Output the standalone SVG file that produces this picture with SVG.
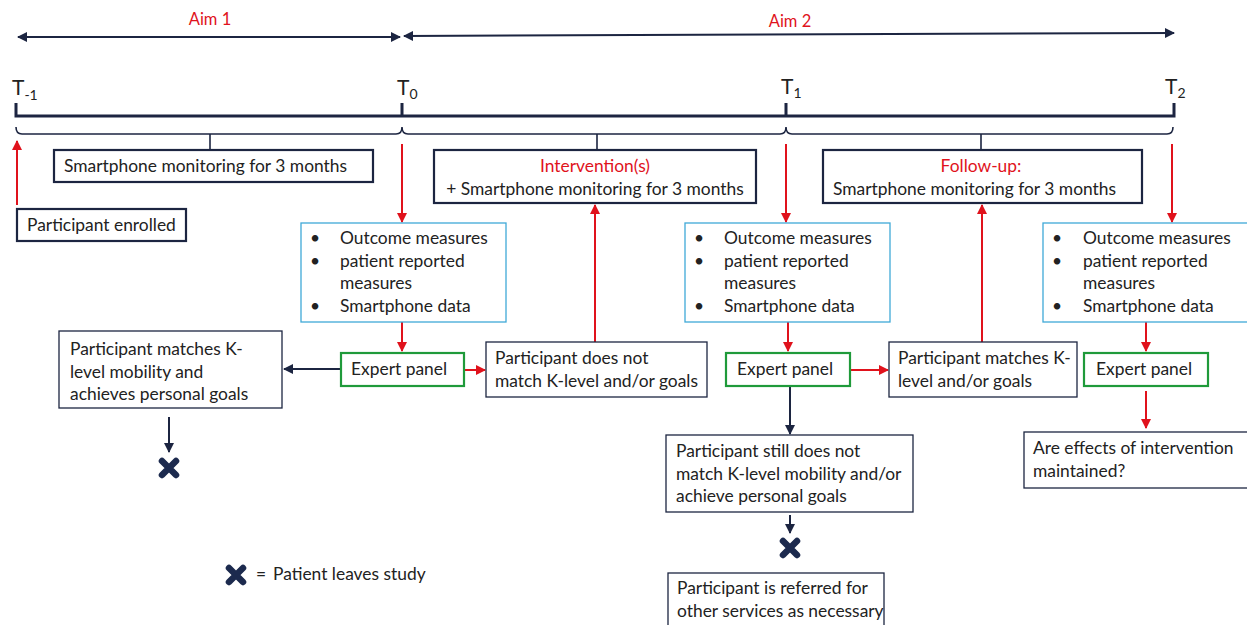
<svg xmlns="http://www.w3.org/2000/svg" width="1247" height="625" viewBox="0 0 1247 625">
<style>
text{font-family:Lato,"Liberation Sans",sans-serif;font-size:17.4px;fill:#222}
.red{fill:#e0121c}
.aim{font-size:16.5px}
.box{fill:#fff;stroke:#1c2541;stroke-width:1.3}
.boxd{fill:#fff;stroke:#1c2541;stroke-width:2.2}
.blue{fill:#fff;stroke:#3fa9d8;stroke-width:1.3}
.green{fill:#fff;stroke:#1f9a3a;stroke-width:2.2}
.rl{stroke:#e0121c;stroke-width:2;fill:none}
.dl{stroke:#1c2541;stroke-width:2;fill:none}
.tl{font-size:21px}
.sub{font-size:14px}
</style>
<defs>
<marker id="ar" viewBox="0 0 10 10" refX="9" refY="5" markerWidth="5" markerHeight="5" orient="auto-start-reverse"><path d="M0,0 L10,5 L0,10 z" fill="#e0121c"/></marker>
<marker id="ad" viewBox="0 0 10 10" refX="9" refY="5" markerWidth="5" markerHeight="5" orient="auto-start-reverse"><path d="M0,0 L10,5 L0,10 z" fill="#1c2541"/></marker>
<symbol id="x" viewBox="-10 -10 20 20" overflow="visible"><path d="M-7,-7 L7,7 M7,-7 L-7,7" stroke="#1c2a4e" stroke-width="6.5" stroke-linecap="round"/></symbol>
</defs>

<g id="timeline">
<text x="210" y="25" text-anchor="middle" class="red aim">Aim 1</text>
<text x="790" y="27" text-anchor="middle" class="red aim">Aim 2</text>
<line x1="18" y1="37" x2="400" y2="37" class="dl" marker-start="url(#ad)" marker-end="url(#ad)"/>
<line x1="404" y1="36" x2="1174" y2="33" class="dl" marker-start="url(#ad)" marker-end="url(#ad)"/>
<text x="12" y="95" class="tl">T<tspan class="sub" dy="5">-1</tspan></text>
<text x="397" y="95" class="tl">T<tspan class="sub" dy="4">0</tspan></text>
<text x="781" y="94" class="tl">T<tspan class="sub" dy="4">1</tspan></text>
<text x="1165" y="94" class="tl">T<tspan class="sub" dy="4">2</tspan></text>
<path d="M16,103 V116 H1174 V103 M402,103 V116 M786,103 V116" stroke="#1c2541" stroke-width="3" fill="none"/>
<path d="M16,127 Q16,134 22,134 L396,134 Q402,134 402,127 Q402,134 408,134 L780,134 Q786,134 786,127 Q786,134 792,134 L1167,134 Q1173,134 1173,127" stroke="#1c2541" stroke-width="1.6" fill="none"/>
<path d="M210,134 V150 M597,134 V150 M981,134 V150" stroke="#1c2541" stroke-width="1.6"/>
</g>

<g id="connectors">
<line x1="17" y1="205" x2="17" y2="141" class="rl" marker-end="url(#ar)"/>
<line x1="402" y1="144" x2="402" y2="222" class="rl" marker-end="url(#ar)"/>
<line x1="402" y1="322" x2="402" y2="351" class="rl" marker-end="url(#ar)"/>
<line x1="341" y1="369" x2="284" y2="369" class="dl" marker-end="url(#ad)"/>
<line x1="169" y1="417" x2="169" y2="452" class="dl" marker-end="url(#ad)"/>
<line x1="464" y1="370" x2="485" y2="370" class="rl" marker-end="url(#ar)"/>
<line x1="595" y1="342" x2="595" y2="205" class="rl" marker-end="url(#ar)"/>
<line x1="786" y1="144" x2="786" y2="222" class="rl" marker-end="url(#ar)"/>
<line x1="788" y1="322" x2="788" y2="351" class="rl" marker-end="url(#ar)"/>
<line x1="850" y1="370" x2="888" y2="370" class="rl" marker-end="url(#ar)"/>
<line x1="982" y1="342" x2="982" y2="205" class="rl" marker-end="url(#ar)"/>
<line x1="790" y1="386" x2="790" y2="434" class="dl" marker-end="url(#ad)"/>
<line x1="790" y1="515" x2="790" y2="533" class="dl" marker-end="url(#ad)"/>
<line x1="1172" y1="144" x2="1172" y2="222" class="rl" marker-end="url(#ar)"/>
<line x1="1146" y1="322" x2="1146" y2="351" class="rl" marker-end="url(#ar)"/>
<line x1="1146" y1="391" x2="1146" y2="428" class="rl" marker-end="url(#ar)"/>
</g>

<g id="n_monitor1"><rect x="54" y="150" width="319" height="32" class="boxd"/><text x="64" y="172">Smartphone monitoring for 3 months</text></g>
<g id="n_intervention"><rect x="434" y="150" width="322" height="53" class="boxd"/><text x="595" y="172" text-anchor="middle" class="red">Intervention(s)</text><text x="595" y="195" text-anchor="middle">+ Smartphone monitoring for 3 months</text></g>
<g id="n_followup"><rect x="823" y="150" width="319" height="53" class="boxd"/><text x="981" y="172" text-anchor="middle" class="red">Follow-up:</text><text x="833" y="195">Smartphone monitoring for 3 months</text></g>
<g id="n_enrolled"><rect x="17" y="209" width="169" height="32" class="boxd"/><text x="27" y="231">Participant enrolled</text></g>

<g id="n_outcome1"><rect x="301" y="223" width="205" height="99" class="blue"/>
<text x="310" y="244">•</text><text x="340" y="244">Outcome measures</text>
<text x="310" y="267">•</text><text x="340" y="267">patient reported</text>
<text x="340" y="289">measures</text>
<text x="310" y="312">•</text><text x="340" y="312">Smartphone data</text></g>
<g id="n_outcome2"><rect x="685" y="223" width="205" height="99" class="blue"/>
<text x="694" y="244">•</text><text x="724" y="244">Outcome measures</text>
<text x="694" y="267">•</text><text x="724" y="267">patient reported</text>
<text x="724" y="289">measures</text>
<text x="694" y="312">•</text><text x="724" y="312">Smartphone data</text></g>
<g id="n_outcome3"><rect x="1043" y="223" width="210" height="99" class="blue"/>
<text x="1052" y="244">•</text><text x="1083" y="244">Outcome measures</text>
<text x="1052" y="267">•</text><text x="1083" y="267">patient reported</text>
<text x="1083" y="289">measures</text>
<text x="1052" y="312">•</text><text x="1083" y="312">Smartphone data</text></g>

<g id="n_expert1"><rect x="341" y="353" width="123" height="33" class="green"/><text x="351" y="375">Expert panel</text></g>
<g id="n_expert2"><rect x="726" y="353" width="124" height="33" class="green"/><text x="737" y="375">Expert panel</text></g>
<g id="n_expert3"><rect x="1084" y="353" width="124" height="33" class="green"/><text x="1096" y="375">Expert panel</text></g>

<g id="n_matches1"><rect x="59" y="331" width="223" height="77" class="box"/><text x="70" y="355">Participant matches K-</text><text x="70" y="378">level mobility and</text><text x="70" y="400">achieves personal goals</text></g>
<g id="n_notmatch"><rect x="486" y="342" width="221" height="55" class="box"/><text x="495" y="364">Participant does not</text><text x="495" y="387">match K-level and/or goals</text></g>
<g id="n_matches2"><rect x="889" y="342" width="188" height="55" class="box"/><text x="898" y="364">Participant matches K-</text><text x="898" y="387">level and/or goals</text></g>
<g id="n_still"><rect x="666" y="435" width="247" height="77" class="box"/><text x="676" y="457">Participant still does not</text><text x="676" y="480">match K-level mobility and/or</text><text x="676" y="502">achieve personal goals</text></g>
<g id="n_referred"><rect x="668" y="573" width="216" height="60" class="box"/><text x="677" y="594">Participant is referred for</text><text x="677" y="617">other services as necessary</text></g>
<g id="n_maintained"><rect x="1024" y="432" width="230" height="56" class="box"/><text x="1033" y="454">Are effects of intervention</text><text x="1033" y="477">maintained?</text></g>

<g id="n_x1"><use href="#x" x="159" y="458" width="20" height="20"/></g>
<g id="n_x2"><use href="#x" x="780" y="538" width="20" height="20"/></g>
<g id="legend"><use href="#x" x="226" y="565" width="20" height="20"/><text x="256" y="580">=</text><text x="273" y="580">Patient leaves study</text></g>
</svg>
